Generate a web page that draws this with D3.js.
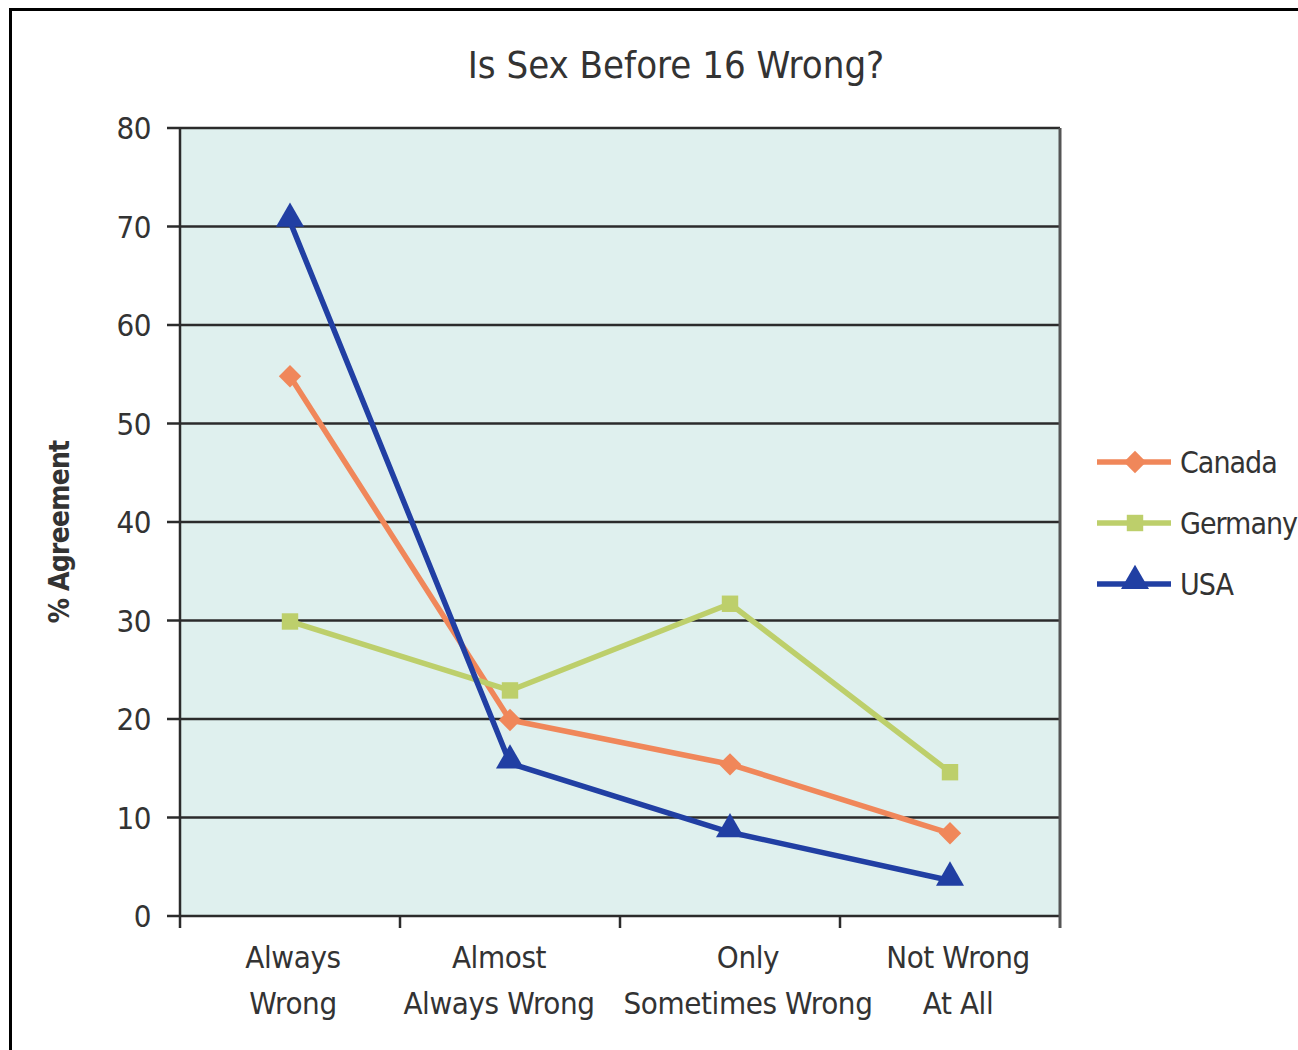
<!DOCTYPE html>
<html>
<head>
<meta charset="utf-8">
<script src="https://cdn.jsdelivr.net/npm/d3@7"></script>
<style>
  body { margin: 0; background: #fff; }
  svg text { font-family: "Liberation Sans Narrow", "DejaVu Sans Condensed", sans-serif; fill: #333; }
</style>
</head>
<body>
<div id="chart"></div>
<script>
const TITLE = "Is Sex Before 16 Wrong?";
const categories = ["Always Wrong", "Almost Always Wrong", "Only Sometimes Wrong", "Not Wrong At All"];
const catLines = [["Always", "Wrong"], ["Almost", "Always Wrong"], ["Only", "Sometimes Wrong"], ["Not Wrong", "At All"]];
const yTicks = [0, 10, 20, 30, 40, 50, 60, 70, 80];
const seriesNames = ["Canada", "Germany", "USA"];
const canada  = [54.8, 19.9, 15.4, 8.4];
const germany = [29.9, 22.9, 31.7, 14.6];
const usa     = [70.5, 15.5, 8.5, 3.6];

const colors  = { Canada: "#F0875A", Germany: "#BDCF6B", USA: "#213FA3" };
const symbols = { Canada: d3.symbolSquare, Germany: d3.symbolSquare, USA: d3.symbolTriangle };
const symSize = { Canada: 250, Germany: 270, USA: 340 };
const symRot  = { Canada: 45, Germany: 0, USA: 0 };
const labelShift = [3, -11, 18, 8]; // x label nudges as in the original

const W = 1298, H = 1050;
const plot = { left: 180, right: 1060, top: 128, bottom: 916 };

const svg = d3.select("#chart").append("svg")
  .attr("width", W).attr("height", H);

// outer frame
svg.append("rect")
  .attr("x", 10.5).attr("y", 9.5)
  .attr("width", W + 20).attr("height", H + 20)
  .attr("fill", "none").attr("stroke", "#000").attr("stroke-width", 3);

const x = d3.scaleBand().domain(categories).range([plot.left, plot.right]);
const y = d3.scaleLinear().domain([0, 80]).range([plot.bottom, plot.top]);

svg.append("rect")
  .attr("x", plot.left).attr("y", plot.top)
  .attr("width", plot.right - plot.left).attr("height", plot.bottom - plot.top)
  .attr("fill", "#DFF0EE");

// gridlines + y ticks
const grid = svg.append("g");
grid.selectAll("line")
  .data(yTicks)
  .join("line")
    .attr("x1", plot.left - 13).attr("x2", plot.right)
    .attr("y1", d => y(d)).attr("y2", d => y(d))
    .attr("stroke", "#2b2b2b").attr("stroke-width", 2.5);
svg.append("g").selectAll("text")
  .data(yTicks)
  .join("text")
    .attr("x", plot.left - 29)
    .attr("y", d => y(d))
    .attr("dy", "0.36em")
    .attr("text-anchor", "end")
    .attr("font-size", 31)
    .attr("letter-spacing", -0.5)
    .text(d => d);

// frame lines
svg.append("line")
  .attr("x1", plot.left).attr("x2", plot.left)
  .attr("y1", plot.top).attr("y2", plot.bottom + 12)
  .attr("stroke", "#2b2b2b").attr("stroke-width", 2.5);
svg.append("line")
  .attr("x1", plot.right).attr("x2", plot.right)
  .attr("y1", plot.top).attr("y2", plot.bottom + 12)
  .attr("stroke", "#555").attr("stroke-width", 3);

// x ticks at band edges
const edges = categories.map(c => x(c)).concat([plot.right]);
svg.append("g").selectAll("line")
  .data(edges.slice(1, -1))
  .join("line")
    .attr("x1", d => d).attr("x2", d => d)
    .attr("y1", plot.bottom).attr("y2", plot.bottom + 12)
    .attr("stroke", "#2b2b2b").attr("stroke-width", 2.5);

// x labels
const xl = svg.append("g").selectAll("text")
  .data(categories)
  .join("text")
    .attr("text-anchor", "middle")
    .attr("font-size", 31)
    .attr("letter-spacing", -0.4)
    .attr("transform", (d, i) => `translate(${x(d) + x.bandwidth() / 2 + labelShift[i]},${plot.bottom + 52})`);
xl.selectAll("tspan")
  .data((d, i) => catLines[i])
  .join("tspan")
    .attr("x", 0)
    .attr("y", (d, j) => j * 46)
    .text(d => d);

// y axis title
svg.append("text")
  .attr("transform", `translate(69,${(plot.top + plot.bottom) / 2 + 10}) rotate(-90)`)
  .attr("text-anchor", "middle")
  .attr("font-size", 28)
  .attr("font-weight", "bold")
  .attr("letter-spacing", -0.8)
  .attr("fill", "#222")
  .text("% Agreement");

// title
svg.append("text")
  .attr("x", 676).attr("y", 78)
  .attr("text-anchor", "middle")
  .attr("font-size", 38)
  .text(TITLE);

// series
const series = [
  { name: "Canada", values: canada },
  { name: "Germany", values: germany },
  { name: "USA", values: usa }
];
const cx = c => x(c) + x.bandwidth() / 2;
const line = d3.line().x((d, i) => cx(categories[i])).y(d => y(d));
const markTf = (name, px, py) =>
  `translate(${px},${py + (name === "USA" ? -3 : 0)}) rotate(${symRot[name]})`;

const sg = svg.append("g").selectAll("g")
  .data(series)
  .join("g");
sg.append("path")
  .attr("d", s => line(s.values))
  .attr("fill", "none")
  .attr("stroke", s => colors[s.name])
  .attr("stroke-width", 5.5)
  .attr("stroke-linejoin", "round");
sg.selectAll("path.mark")
  .data(s => s.values.map((v, i) => ({ name: s.name, v, i })))
  .join("path")
    .attr("class", "mark")
    .attr("transform", d => markTf(d.name, cx(categories[d.i]), y(d.v)))
    .attr("d", d => d3.symbol(symbols[d.name], symSize[d.name])())
    .attr("fill", d => colors[d.name]);

// legend
const lg = svg.append("g").selectAll("g")
  .data(seriesNames)
  .join("g")
    .attr("transform", (d, i) => `translate(1097,${462 + i * 61})`);
lg.append("line")
  .attr("x1", 0).attr("x2", 74)
  .attr("stroke", d => colors[d]).attr("stroke-width", 5.5);
lg.append("path")
  .attr("transform", d => markTf(d, 38, 0))
  .attr("d", d => d3.symbol(symbols[d], symSize[d])())
  .attr("fill", d => colors[d]);
lg.append("text")
  .attr("x", 83)
  .attr("dy", "0.36em")
  .attr("font-size", 30)
  .attr("letter-spacing", -1)
  .text(d => d);
</script>
</body>
</html>
